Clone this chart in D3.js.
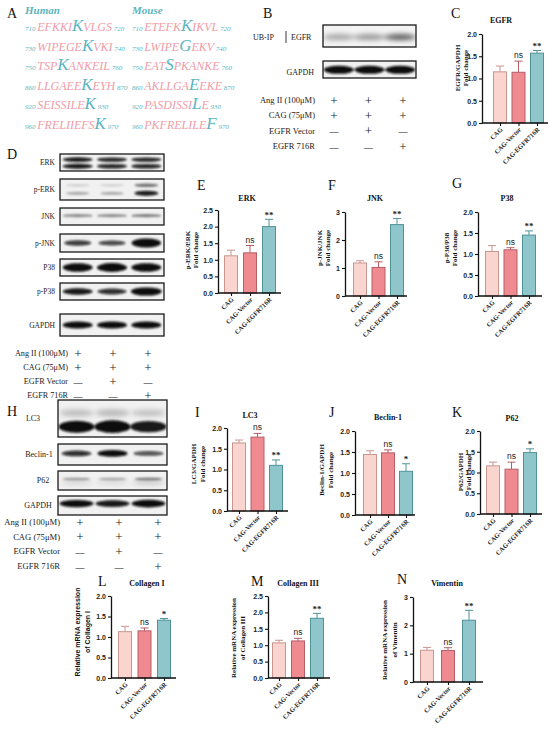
<!DOCTYPE html>
<html>
<head>
<meta charset="utf-8">
<script src="https://cdn.jsdelivr.net/npm/d3@7"></script>
<style>
  html, body { margin: 0; padding: 0; background: #fff; }
  svg { display: block; }
</style>
</head>
<body>
<svg id="fig" width="550" height="729"></svg>
<script>
// ---- data -------------------------------------------------------------------
const groups = ['CAG', 'CAG-Vector', 'CAG-EGFR716R'];

const egfrMean = [1.15, 1.14, 1.57], egfrErr = [0.13, 0.25, 0.06], egfrSig = ['', 'ns', '**'];
const erkMean  = [1.12, 1.21, 2.00], erkErr  = [0.17, 0.22, 0.22], erkSig  = ['', 'ns', '**'];
const jnkMean  = [1.18, 1.02, 2.55], jnkErr  = [0.08, 0.20, 0.22], jnkSig  = ['', 'ns', '**'];
const p38Mean  = [1.06, 1.10, 1.45], p38Err  = [0.14, 0.05, 0.10], p38Sig  = ['', 'ns', '**'];
const lc3Mean  = [1.64, 1.78, 1.10], lc3Err  = [0.07, 0.09, 0.13], lc3Sig  = ['', 'ns', '**'];
const becMean  = [1.44, 1.48, 1.04], becErr  = [0.09, 0.07, 0.18], becSig  = ['', 'ns', '*'];
const p62Mean  = [1.16, 1.08, 1.48], p62Err  = [0.09, 0.17, 0.09], p62Sig  = ['', 'ns', '*'];
const col1Mean = [1.13, 1.15, 1.41], col1Err = [0.13, 0.07, 0.04], col1Sig = ['', 'ns', '*'];
const col3Mean = [1.07, 1.13, 1.82], col3Err = [0.08, 0.08, 0.15], col3Sig = ['', 'ns', '**'];
const vimMean  = [1.12, 1.11, 2.18], vimErr  = [0.10, 0.10, 0.35], vimSig  = ['', 'ns', '**'];

const ticks2  = [0, 0.5, 1, 1.5, 2];
const ticks25 = [0, 0.5, 1, 1.5, 2, 2.5];
const ticks3  = [0, 1, 2, 3];

// ubiquitination sites (panel A)
const humanSites = [
  [710, 'EFKKI', 'K', 'VLGS', 720],
  [730, 'WIPEGE', 'K', 'VKI', 740],
  [750, 'TSP', 'K', 'ANKEIL', 760],
  [860, 'LLGAEE', 'K', 'EYH', 870],
  [920, 'SEISSILE', 'K', '', 930],
  [960, 'FRELIIEFS', 'K', '', 970]
];
const mouseSites = [
  [710, 'ETEFK', 'K', 'IKVL', 720],
  [730, 'LWIPE', 'G', 'EKV', 740],
  [750, 'EAT', 'S', 'PKANKE', 760],
  [860, 'AKLLGA', 'E', 'EKE', 870],
  [920, 'PASDISSI', 'L', 'E', 930],
  [960, 'PKFRELILE', 'F', '', 970]
];

// treatment table
const condLabels = ['Ang II (100μM)', 'CAG (75μM)', 'EGFR Vector', 'EGFR 716R'];
const condMarks  = [['+', '+', '+'], ['+', '+', '+'], ['—', '+', '—'], ['—', '—', '+']];

// band intensities per lane (relative; >1 = swollen band)
const ubEgfrBand = [0.32, 0.38, 0.62];
const gapdhBBand = [1.0, 1.0, 1.0];
const erkBand    = [0.95, 0.9, 0.9];
const pErkBand   = [0.3, 0.3, 0.95];
const jnkBand    = [0.42, 0.42, 0.48];
const pJnkBand   = [0.8, 0.75, 1.35];
const p38Band    = [1.05, 1.1, 1.05];
const pP38Band   = [0.95, 0.85, 1.2];
const gapdhDBand = [1.0, 1.0, 1.0];
const lc3Band    = [1.0, 1.05, 0.95];
const beclinBand = [0.85, 1.0, 0.7];
const p62Band    = [0.35, 0.3, 0.5];
const gapdhHBand = [1.0, 0.95, 1.05];

// ---- setup ------------------------------------------------------------------
const SERIF = '"Liberation Serif", "Times New Roman", serif';
const SANS  = '"Liberation Sans", Arial, sans-serif';
const fills   = ['#fad5d0', '#ef8a91', '#8ec6cb'];
const strokes = ['#c9958f', '#b55e67', '#4f9399'];
const PINK = '#f09ca7', TEAL = '#5bb5c0';

const svg = d3.select('#fig');
const defs = svg.append('defs');
defs.append('filter').attr('id', 'blur').attr('x', '-50%').attr('y', '-100%')
  .attr('width', '200%').attr('height', '300%')
  .append('feGaussianBlur').attr('stdDeviation', 1.1);
defs.append('filter').attr('id', 'blur2').attr('x', '-50%').attr('y', '-100%')
  .attr('width', '200%').attr('height', '300%')
  .append('feGaussianBlur').attr('stdDeviation', 2.4);

// ---- panel letters ----------------------------------------------------------
const letters = [
  ['A', 7, 18], ['B', 263, 18], ['C', 451, 18], ['D', 7, 159],
  ['E', 197, 190], ['F', 328, 190], ['G', 452, 188], ['H', 7, 416],
  ['I', 195, 417], ['J', 329, 417], ['K', 452, 417],
  ['L', 98, 586], ['M', 251, 586], ['N', 397, 584]
];
svg.selectAll('text.letter').data(letters).join('text')
  .attr('class', 'letter')
  .attr('x', d => d[1]).attr('y', d => d[2])
  .attr('font-family', SERIF).attr('font-size', 14).attr('fill', '#111')
  .text(d => d[0]);

// ---- panel A ----------------------------------------------------------------
function siteColumn(x, title, sites) {
  svg.append('text').attr('x', x).attr('y', 14)
    .attr('font-family', SERIF).attr('font-style', 'italic').attr('font-weight', 'bold')
    .attr('font-size', 11).attr('fill', TEAL).text(title);
  const rowY = d3.scalePoint().domain(d3.range(sites.length)).range([31, 129]);
  sites.forEach((s, i) => {
    const t = svg.append('text').attr('x', x).attr('y', rowY(i))
      .attr('font-family', SERIF).attr('font-style', 'italic');
    t.append('tspan').attr('font-size', 7).attr('fill', TEAL).text(s[0] + ' ');
    t.append('tspan').attr('font-size', 12).attr('fill', PINK).text(s[1]);
    t.append('tspan').attr('font-size', 17).attr('fill', TEAL).text(s[2]);
    if (s[3]) t.append('tspan').attr('font-size', 12).attr('fill', PINK).text(s[3]);
    t.append('tspan').attr('font-size', 7).attr('fill', TEAL).text(' ' + s[4]);
  });
}
siteColumn(25, 'Human', humanSites);
siteColumn(132, 'Mouse', mouseSites);

// ---- blots ------------------------------------------------------------------
// b: box, band rows [{fy, ry, rx, k}], vals per lane
function blot(b) {
  const lane = d3.scalePoint().domain([0, 1, 2]).range([b.x + b.w * 0.17, b.x + b.w * 0.83]);
  const id = 'clip' + Math.round(b.x) + '_' + Math.round(b.y);
  defs.append('clipPath').attr('id', id)
    .append('rect').attr('x', b.x).attr('y', b.y).attr('width', b.w).attr('height', b.h);
  svg.append('rect').attr('x', b.x).attr('y', b.y).attr('width', b.w).attr('height', b.h)
    .attr('fill', b.bg || '#f1f1f1');
  const g = svg.append('g').attr('clip-path', `url(#${id})`);
  b.rows.forEach(r => {
    g.append('g').attr('filter', `url(#${r.soft ? 'blur2' : 'blur'})`)
      .selectAll('ellipse').data(b.vals).join('ellipse')
      .attr('cx', (d, i) => lane(i))
      .attr('cy', b.y + b.h * r.fy)
      .attr('rx', d => r.rx * (r.swellX ? Math.min(1.15, 0.85 + 0.15 * d) : 1))
      .attr('ry', d => r.ry * Math.max(0.6, d))
      .attr('fill', '#0a0a0a')
      .attr('opacity', d => Math.min(1, d * (r.k || 1)));
  });
  svg.append('rect').attr('x', b.x).attr('y', b.y).attr('width', b.w).attr('height', b.h)
    .attr('fill', 'none').attr('stroke', '#1a1a1a').attr('stroke-width', 1.3);
  if (b.label) {
    svg.append('text').attr('x', b.lx).attr('y', b.y + b.h / 2 + (b.ldy || 2.5))
      .attr('text-anchor', b.anchor || 'end')
      .attr('font-family', SERIF).attr('font-size', b.fs || 7.5).attr('fill', '#222')
      .text(b.label);
  }
}

function condTable(rightX, rows, cols, fs) {
  const ry = d3.scalePoint().domain(d3.range(condLabels.length)).range(rows);
  const cx = d3.scalePoint().domain([0, 1, 2]).range(cols);
  condLabels.forEach((lab, i) => {
    svg.append('text').attr('x', rightX).attr('y', ry(i) + 3)
      .attr('text-anchor', 'end').attr('font-family', SERIF).attr('font-size', fs)
      .attr('fill', '#222').text(lab);
    svg.selectAll(null).data(condMarks[i]).join('text')
      .attr('x', (d, j) => cx(j)).attr('y', d => ry(i) + (d === '+' ? 4.5 : 3.5))
      .attr('text-anchor', 'middle').attr('font-family', SERIF)
      .attr('font-size', d => d === '+' ? 13 : 9).attr('fill', '#222')
      .text(d => d);
  });
}

// panel B
blot({ x: 323, y: 25, w: 93, h: 22, vals: ubEgfrBand, bg: '#f4f4f4',
  rows: [{ fy: 0.55, ry: 5, rx: 16, soft: true }] });
svg.append('text').attr('x', 253).attr('y', 39.5).attr('font-family', SERIF)
  .attr('font-size', 8).attr('fill', '#222').text('UB-IP');
svg.append('line').attr('x1', 286).attr('x2', 286).attr('y1', 31).attr('y2', 43)
  .attr('stroke', '#222').attr('stroke-width', 0.9);
svg.append('text').attr('x', 291).attr('y', 39.5).attr('font-family', SERIF)
  .attr('font-size', 8).attr('fill', '#222').text('EGFR');
blot({ x: 323, y: 61, w: 93, h: 17, vals: gapdhBBand, label: 'GAPDH', lx: 314, ldy: 5, fs: 8,
  rows: [{ fy: 0.52, ry: 4, rx: 15 }] });
condTable(315, [100, 146], [334, 403], 8.5);

// panel D
const dx = 60, dw = 104;
blot({ x: dx, y: 154, w: dw, h: 17, vals: erkBand, label: 'ERK', lx: 55,
  rows: [{ fy: 0.33, ry: 2.4, rx: 15 }, { fy: 0.72, ry: 2.6, rx: 15 }] });
blot({ x: dx, y: 179, w: dw, h: 21, vals: pErkBand, label: 'p-ERK', lx: 55,
  rows: [{ fy: 0.3, ry: 1.8, rx: 12, k: 0.55 }, { fy: 0.68, ry: 2.6, rx: 12 }] });
blot({ x: dx, y: 208, w: dw, h: 17, vals: jnkBand, label: 'JNK', lx: 55,
  rows: [{ fy: 0.45, ry: 2.8, rx: 15 }] });
blot({ x: dx, y: 234, w: dw, h: 18, vals: pJnkBand, label: 'p-JNK', lx: 55,
  rows: [{ fy: 0.5, ry: 3.4, rx: 14, swellX: true }] });
blot({ x: dx, y: 259, w: dw, h: 17, vals: p38Band, label: 'P38', lx: 55,
  rows: [{ fy: 0.5, ry: 4, rx: 15 }] });
blot({ x: dx, y: 283, w: dw, h: 17, vals: pP38Band, label: 'p-P38', lx: 55,
  rows: [{ fy: 0.5, ry: 3.4, rx: 15, swellX: true }] });
blot({ x: dx, y: 314, w: dw, h: 22, vals: gapdhDBand, label: 'GAPDH', lx: 55,
  rows: [{ fy: 0.5, ry: 3.6, rx: 15 }] });
condTable(68, [353, 395], [78, 148], 8.2);

// panel H
const hx = 58, hw = 109;
blot({ x: hx, y: 400, w: hw, h: 37, vals: lc3Band, label: 'LC3', lx: 33, anchor: 'middle', fs: 8,
  rows: [{ fy: 0.35, ry: 3.5, rx: 17, k: 0.22, soft: true }, { fy: 0.72, ry: 6, rx: 18 }] });
blot({ x: hx, y: 444, w: hw, h: 21, vals: beclinBand, label: 'Beclin-1', lx: 39, anchor: 'middle', fs: 8,
  rows: [{ fy: 0.45, ry: 3.4, rx: 15 }] });
blot({ x: hx, y: 471, w: hw, h: 19, vals: p62Band, label: 'P62', lx: 43, anchor: 'middle', fs: 8,
  rows: [{ fy: 0.42, ry: 2.2, rx: 14 }, { fy: 0.6, ry: 4, rx: 16, k: 0.35, soft: true }] });
blot({ x: hx, y: 496, w: hw, h: 19, vals: gapdhHBand, label: 'GAPDH', lx: 38, anchor: 'middle', fs: 8,
  rows: [{ fy: 0.4, ry: 3.6, rx: 17 }] });
condTable(60, [522, 566], [80, 158], 8.6);

// ---- bar charts -------------------------------------------------------------
function barPanel(p) {
  const y = d3.scaleLinear().domain([0, p.yMax]).range([p.zero, p.top]);
  const x = d3.scalePoint().domain(groups).range([p.c0, p.c1]);
  const g = svg.append('g');
  const bw = p.bw || 13;

  // error bars (upper only)
  const eb = g.selectAll('g.err').data(groups).join('g');
  eb.append('line')
    .attr('x1', d => x(d)).attr('x2', d => x(d))
    .attr('y1', (d, i) => y(p.mean[i])).attr('y2', (d, i) => y(p.mean[i] + p.err[i]))
    .attr('stroke', (d, i) => strokes[i]).attr('stroke-width', 1);
  eb.append('line')
    .attr('x1', d => x(d) - 4).attr('x2', d => x(d) + 4)
    .attr('y1', (d, i) => y(p.mean[i] + p.err[i])).attr('y2', (d, i) => y(p.mean[i] + p.err[i]))
    .attr('stroke', (d, i) => strokes[i]).attr('stroke-width', 1);

  g.selectAll('rect.bar').data(groups).join('rect')
    .attr('x', d => x(d) - bw / 2).attr('width', bw)
    .attr('y', (d, i) => y(p.mean[i]))
    .attr('height', (d, i) => p.zero - y(p.mean[i]))
    .attr('fill', (d, i) => fills[i]).attr('stroke', (d, i) => strokes[i])
    .attr('stroke-width', 1);

  // significance
  g.selectAll('text.sig').data(groups).join('text')
    .attr('x', d => x(d)).attr('y', (d, i) => y(p.mean[i] + p.err[i]) - (p.sig[i] === 'ns' ? 3 : 1.5))
    .attr('text-anchor', 'middle')
    .attr('font-family', (d, i) => p.sig[i] === 'ns' ? SANS : SERIF)
    .attr('font-weight', (d, i) => p.sig[i] === 'ns' ? 'normal' : 'bold')
    .attr('font-size', (d, i) => p.sig[i] === 'ns' ? 8.5 : 9)
    .attr('fill', '#222')
    .text((d, i) => p.sig[i]);

  // y axis
  const fmt = p.yMax === 3 ? d3.format('d') : d3.format('.1f');
  const ya = g.append('g').attr('transform', `translate(${p.axis},0)`)
    .call(d3.axisLeft(y).tickValues(p.ticks).tickFormat(fmt).tickSize(3).tickSizeOuter(0).tickPadding(2));
  ya.select('.domain').attr('stroke', '#111').attr('stroke-width', 1.3);
  ya.selectAll('.tick line').attr('stroke', '#111').attr('stroke-width', 1.1);
  ya.selectAll('.tick text').attr('font-family', SANS).attr('font-weight', 'bold')
    .attr('font-size', 7).attr('fill', '#222');

  // x axis
  g.append('line').attr('x1', p.axis).attr('x2', p.xEnd).attr('y1', p.zero).attr('y2', p.zero)
    .attr('stroke', '#111').attr('stroke-width', 1.3);
  const xa = g.append('g').attr('transform', `translate(0,${p.zero})`)
    .call(d3.axisBottom(x).tickSize(3).tickFormat(''));
  xa.select('.domain').remove();
  xa.selectAll('.tick line').attr('stroke', '#111').attr('stroke-width', 1.1);
  g.selectAll('text.cat').data(groups).join('text')
    .attr('transform', d => `translate(${x(d) + 3},${p.zero + 7}) rotate(-45)`)
    .attr('text-anchor', 'end')
    .attr('font-family', SERIF).attr('font-weight', 'bold').attr('font-size', 6.5)
    .attr('fill', '#222').text(d => d);

  // title
  g.append('text').attr('x', p.tx).attr('y', p.ty).attr('text-anchor', 'middle')
    .attr('font-family', SERIF).attr('font-weight', 'bold').attr('font-size', 8)
    .attr('fill', '#111').text(p.title);

  // y label (two lines)
  const cy = p.ly !== undefined ? p.ly : (p.zero + p.top) / 2;
  p.ylab.forEach((line, i) => {
    g.append('text')
      .attr('transform', `translate(${p.lx[i]},${cy}) rotate(-90)`)
      .attr('text-anchor', 'middle')
      .attr('font-family', p.sansLabel ? SANS : SERIF).attr('font-weight', 'bold')
      .attr('font-size', 7).attr('fill', '#111').text(line);
  });
}

barPanel({ title: 'EGFR', tx: 501, ty: 23, mean: egfrMean, err: egfrErr, sig: egfrSig,
  axis: 482, zero: 123, top: 34, yMax: 2, ticks: ticks2, c0: 500, c1: 537, xEnd: 548,
  ylab: ['EGFR/GAPDH', 'Fold change'], lx: [460, 468], ly: 68 });

barPanel({ title: 'ERK', tx: 247, ty: 201, mean: erkMean, err: erkErr, sig: erkSig,
  axis: 218, zero: 293, top: 210, yMax: 2.5, ticks: ticks25, c0: 231, c1: 269, xEnd: 281,
  ylab: ['p-ERK/ERK', 'Fold change'], lx: [190, 198], ly: 250 });

barPanel({ title: 'JNK', tx: 375, ty: 201, mean: jnkMean, err: jnkErr, sig: jnkSig,
  axis: 345, zero: 296, top: 212, yMax: 3, ticks: ticks3, c0: 360, c1: 397, xEnd: 407,
  ylab: ['p-JNK/JNK', 'Fold change'], lx: [322, 330], ly: 248 });

barPanel({ title: 'P38', tx: 507, ty: 201, mean: p38Mean, err: p38Err, sig: p38Sig,
  axis: 478, zero: 296, top: 212, yMax: 2, ticks: ticks2, c0: 492, c1: 529, xEnd: 542,
  ylab: ['p-P38/P38', 'Fold change'], lx: [449, 457], ly: 248 });

barPanel({ title: 'LC3', tx: 250, ty: 418, mean: lc3Mean, err: lc3Err, sig: lc3Sig,
  axis: 227, zero: 511, top: 428, yMax: 2, ticks: ticks2, c0: 239, c1: 276, xEnd: 288,
  ylab: ['LC3/GAPDH', 'Fold change'], lx: [196, 205], ly: 464 });

barPanel({ title: 'Beclin-1', tx: 388, ty: 420, mean: becMean, err: becErr, sig: becSig,
  axis: 355, zero: 515, top: 431, yMax: 2, ticks: ticks2, c0: 370, c1: 406, xEnd: 415,
  ylab: ['Beclin-1/GAPDH', 'Fold change'], lx: [324, 333], ly: 470 });

barPanel({ title: 'P62', tx: 512, ty: 421, mean: p62Mean, err: p62Err, sig: p62Sig,
  axis: 480, zero: 514, top: 431, yMax: 2, ticks: ticks2, c0: 493, c1: 530, xEnd: 542,
  ylab: ['P62/GAPDH', 'Fold change'], lx: [463, 471], ly: 472 });

barPanel({ title: 'Collagen I', tx: 147, ty: 586, mean: col1Mean, err: col1Err, sig: col1Sig,
  axis: 111, zero: 678, top: 596, yMax: 2, ticks: ticks2, c0: 125, c1: 164, xEnd: 176,
  ylab: ['Relative mRNA expression', 'of Collagen I'], lx: [80, 90], ly: 632, sansLabel: true });

barPanel({ title: 'Collagen III', tx: 298, ty: 586, mean: col3Mean, err: col3Err, sig: col3Sig,
  axis: 268, zero: 678, top: 596, yMax: 2.5, ticks: ticks25, c0: 279, c1: 317, xEnd: 330,
  ylab: ['Relative mRNA expression', 'of Collagen III'], lx: [236, 245], ly: 638 });

barPanel({ title: 'Vimentin', tx: 447, ty: 586, mean: vimMean, err: vimErr, sig: vimSig,
  axis: 413, zero: 682, top: 597, yMax: 3, ticks: ticks3, c0: 427, c1: 469, xEnd: 483,
  ylab: ['Relative mRNA expression', 'of Vimentin'], lx: [387, 397], ly: 640 });
</script>
</body>
</html>
